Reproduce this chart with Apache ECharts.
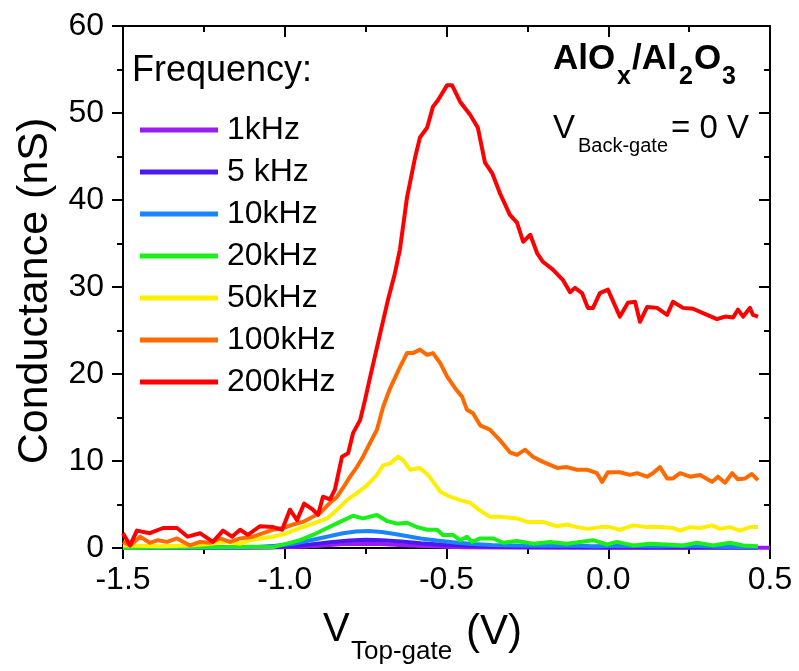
<!DOCTYPE html>
<html><head><meta charset="utf-8">
<script src="https://cdn.jsdelivr.net/npm/echarts@6/dist/echarts.min.js"></script>
<style>html,body{margin:0;padding:0;background:#fff}#c{width:799px;height:671px}</style>
</head><body><div id="c"></div>
<script>
const FONT = "'Liberation Sans', Arial, sans-serif";
const seriesNames = ['1kHz', '5 kHz', '10kHz', '20kHz', '50kHz', '100kHz', '200kHz'];
const seriesColors = ['#9B1CF2', '#4A18F0', '#1A84FF', '#18F018', '#FFEE00', '#FF6A00', '#FF0000'];

const f1k = [[-1.5,0],[-1.2,0.02],[-1.05,0.05],[-0.95,0.15],[-0.88,0.3],[-0.82,0.45],[-0.76,0.5],[-0.7,0.45],[-0.62,0.3],[-0.55,0.2],[-0.45,0.1],[-0.3,0.05],[0,0.03],[0.5,0.02]];
const f5k = [[-1.5,0],[-1.2,0.05],[-1.05,0.1],[-0.98,0.2],[-0.92,0.4],[-0.86,0.65],[-0.8,0.85],[-0.75,0.95],[-0.7,0.9],[-0.64,0.75],[-0.58,0.55],[-0.5,0.35],[-0.4,0.2],[-0.3,0.12],[-0.1,0.08],[0.2,0.05],[0.46,0.05]];
const f10k = [[-1.5,0],[-1.2,0.05],[-1.1,0.1],[-1.03,0.25],[-0.97,0.5],[-0.92,0.9],[-0.87,1.3],[-0.82,1.7],[-0.78,1.9],[-0.74,1.95],[-0.7,1.85],[-0.66,1.6],[-0.62,1.35],[-0.58,1.1],[-0.53,0.85],[-0.48,0.65],[-0.42,0.45],[-0.36,0.35],[-0.3,0.3],[-0.2,0.25],[-0.1,0.3],[-0.05,0.2],[0.05,0.25],[0.15,0.2],[0.25,0.25],[0.35,0.15],[0.46,0.1]];
const f20k = [[-1.5,0],[-1.4,0.05],[-1.3,0.1],[-1.2,0.1],[-1.1,0.15],[-1.036,0.1],[-0.993,0.5],[-0.953,0.9],[-0.913,1.5],[-0.869,2.3],[-0.829,3.0],[-0.789,3.7],[-0.758,3.4],[-0.715,3.8],[-0.684,3.1],[-0.653,2.8],[-0.622,2.9],[-0.591,2.4],[-0.56,2.1],[-0.529,2.1],[-0.511,1.5],[-0.48,1.5],[-0.458,0.9],[-0.437,1.3],[-0.421,0.7],[-0.396,1.1],[-0.356,1.1],[-0.325,0.6],[-0.282,0.8],[-0.233,0.5],[-0.18,0.7],[-0.128,0.5],[-0.047,0.9],[-0.004,0.4],[0.027,0.7],[0.077,0.3],[0.129,0.5],[0.182,0.4],[0.231,0.3],[0.274,0.6],[0.324,0.3],[0.376,0.6],[0.417,0.3],[0.463,0.2]];
const f50k = [[-1.5,0.3],[-1.386,0.2],[-1.293,0.3],[-1.231,0.5],[-1.179,0.7],[-1.138,0.5],[-1.107,0.9],[-1.077,1.1],[-1.036,1.3],[-0.993,1.7],[-0.953,2.3],[-0.913,2.8],[-0.869,3.4],[-0.838,4.4],[-0.808,5.5],[-0.777,6.3],[-0.746,7.2],[-0.715,8.4],[-0.696,9.5],[-0.675,9.7],[-0.65,10.5],[-0.634,10.1],[-0.613,9.0],[-0.582,9.2],[-0.557,8.4],[-0.529,7.0],[-0.52,6.5],[-0.489,5.9],[-0.458,5.5],[-0.427,5.2],[-0.396,4.3],[-0.366,3.6],[-0.335,3.6],[-0.282,3.4],[-0.251,3.0],[-0.202,3.0],[-0.158,2.5],[-0.128,2.7],[-0.097,2.4],[-0.063,2.2],[-0.026,2.4],[0.005,2.4],[0.036,2.1],[0.077,2.6],[0.12,2.4],[0.16,2.4],[0.2,2.3],[0.222,2.0],[0.253,2.4],[0.284,2.3],[0.321,2.6],[0.345,2.2],[0.376,2.4],[0.407,2.0],[0.438,2.4],[0.463,2.4]];
const f100k = [[-1.5,0.7],[-1.478,0.3],[-1.447,1.3],[-1.417,0.6],[-1.392,0.9],[-1.364,0.7],[-1.333,1.1],[-1.293,0.3],[-1.262,0.7],[-1.231,0.6],[-1.2,1.1],[-1.169,0.7],[-1.138,1.1],[-1.098,1.3],[-1.067,1.7],[-1.036,2.1],[-1.005,2.3],[-0.974,2.7],[-0.944,3.0],[-0.913,3.6],[-0.891,4.0],[-0.86,5.2],[-0.838,5.9],[-0.82,6.9],[-0.798,8.2],[-0.777,9.3],[-0.758,10.5],[-0.736,12.1],[-0.715,13.6],[-0.696,16.2],[-0.675,18.3],[-0.644,20.8],[-0.622,22.4],[-0.604,22.4],[-0.582,22.8],[-0.56,22.2],[-0.542,22.4],[-0.52,21.3],[-0.498,19.7],[-0.474,18.4],[-0.452,17.4],[-0.437,15.9],[-0.418,15.5],[-0.396,14.1],[-0.366,13.6],[-0.335,12.4],[-0.304,11.0],[-0.282,10.7],[-0.257,11.3],[-0.233,10.5],[-0.202,9.9],[-0.158,9.2],[-0.128,9.3],[-0.097,9.0],[-0.066,9.0],[-0.035,8.6],[-0.019,7.6],[-0.001,8.7],[0.036,8.7],[0.067,8.4],[0.089,8.6],[0.12,8.2],[0.138,8.6],[0.16,9.3],[0.182,8.0],[0.2,8.0],[0.222,8.6],[0.253,8.2],[0.284,8.4],[0.321,7.6],[0.339,8.2],[0.361,7.5],[0.383,8.6],[0.401,7.9],[0.423,8.0],[0.444,8.5],[0.463,7.8]];
const f200k = [[-1.5,1.7],[-1.478,0.3],[-1.457,2.0],[-1.417,1.7],[-1.376,2.3],[-1.333,2.3],[-1.3,1.3],[-1.262,1.7],[-1.222,0.7],[-1.191,2.0],[-1.163,1.3],[-1.138,2.1],[-1.114,1.5],[-1.077,2.5],[-1.036,2.4],[-1.008,2.1],[-0.984,4.4],[-0.962,3.2],[-0.94,5.1],[-0.913,4.4],[-0.897,3.8],[-0.882,5.9],[-0.86,5.6],[-0.845,6.7],[-0.823,10.5],[-0.804,10.9],[-0.789,13.2],[-0.767,14.7],[-0.752,17.0],[-0.737,19.5],[-0.706,24.5],[-0.681,28.5],[-0.66,31.5],[-0.644,34.3],[-0.622,40.3],[-0.597,44.9],[-0.582,47.2],[-0.56,48.3],[-0.542,50.7],[-0.526,51.5],[-0.498,53.2],[-0.483,53.2],[-0.458,51.3],[-0.427,49.8],[-0.403,48.3],[-0.381,44.3],[-0.359,43.1],[-0.335,40.8],[-0.304,38.3],[-0.282,37.4],[-0.263,35.2],[-0.241,36.0],[-0.22,33.9],[-0.202,32.9],[-0.171,32.0],[-0.14,30.8],[-0.118,29.4],[-0.103,29.9],[-0.081,29.3],[-0.063,27.6],[-0.047,27.6],[-0.026,29.3],[-0.001,29.7],[0.036,26.6],[0.061,28.2],[0.083,28.3],[0.098,26.0],[0.12,27.7],[0.151,27.6],[0.182,26.8],[0.2,28.3],[0.231,27.6],[0.262,27.5],[0.293,27.0],[0.336,26.3],[0.361,26.6],[0.386,26.5],[0.401,27.4],[0.417,26.6],[0.438,27.6],[0.447,26.8],[0.463,26.6]];

const seriesData = [f1k, f5k, f10k, f20k, f50k, f100k, f200k];

const chart = echarts.init(document.getElementById('c'), null, {renderer: 'canvas'});
const axisLine = {show: true, onZero: false, lineStyle: {color: '#000', width: 2}};
const tickStyle = {color: '#000', width: 2};

function txt(text, x, y, size, bold, extra) {
  return Object.assign({
    type: 'text', x: x, y: y, silent: true,
    style: {text: text, fill: '#000', font: (bold ? 'bold ' : '') + size + 'px ' + FONT, align: 'left', verticalAlign: 'middle'}
  }, extra || {});
}

chart.setOption({
  animation: false,
  backgroundColor: '#fff',
  grid: {left: 123, right: 29, top: 26, bottom: 123, containLabel: false},
  legend: {
    orient: 'vertical', left: 140, top: 114, padding: 0, itemWidth: 78, itemHeight: 5, itemGap: 10,
    icon: 'rect', selectedMode: false,
    data: seriesNames,
    textStyle: {fontFamily: FONT, fontSize: 32, color: '#000', lineHeight: 32, padding: [0, 0, 0, 4]}
  },
  xAxis: [{
    type: 'value', min: -1.5, max: 0.5, interval: 0.5, position: 'bottom',
    axisLine: axisLine,
    axisTick: {show: true, inside: false, length: 11, lineStyle: tickStyle},
    minorTick: {show: true, splitNumber: 2, length: 6, lineStyle: tickStyle},
    splitLine: {show: false},
    axisLabel: {margin: 16, fontFamily: FONT, fontSize: 32, color: '#000', formatter: v => v.toFixed(1)}
  }, {
    type: 'value', min: -1.5, max: 0.5, interval: 0.5, position: 'top',
    axisLine: axisLine,
    axisTick: {show: true, inside: true, length: 11, lineStyle: tickStyle},
    minorTick: {show: true, splitNumber: 2, length: 6, lineStyle: tickStyle},
    splitLine: {show: false}, axisLabel: {show: false}
  }],
  yAxis: [{
    type: 'value', min: 0, max: 60, interval: 10, position: 'left',
    axisLine: axisLine,
    axisTick: {show: true, inside: false, length: 11, lineStyle: tickStyle},
    minorTick: {show: true, splitNumber: 2, length: 6, lineStyle: tickStyle},
    splitLine: {show: false},
    axisLabel: {margin: 19, fontFamily: FONT, fontSize: 32, color: '#000'}
  }, {
    type: 'value', min: 0, max: 60, interval: 10, position: 'right',
    axisLine: axisLine,
    axisTick: {show: true, inside: true, length: 11, lineStyle: tickStyle},
    minorTick: {show: true, splitNumber: 2, length: 6, lineStyle: tickStyle},
    splitLine: {show: false}, axisLabel: {show: false}
  }],
  series: seriesNames.map((n, i) => ({
    name: n, type: 'line', data: seriesData[i], xAxisIndex: 0, yAxisIndex: 0,
    showSymbol: false, symbol: 'none', color: seriesColors[i],
    lineStyle: {width: 4, color: seriesColors[i], join: 'round'}, z: 2 + i, silent: true
  })),
  graphic: [
    txt('Frequency:', 132, 71, 36, false),
    txt('AlO', 553, 59, 35, true),
    txt('x', 617, 77, 25, true),
    txt('/Al', 632, 59, 35, true),
    txt('2', 679, 77, 25, true),
    txt('O', 694, 59, 35, true),
    txt('3', 722, 77, 25, true),
    txt('V', 553, 129, 33, false),
    txt('Back-gate', 578, 146, 20, false),
    txt('= 0 V', 671, 129, 33, false),
    txt('V', 323, 630, 40, false),
    txt('Top-gate', 351, 652, 26, false),
    txt('(V)', 466, 632, 42, false),
    {type: 'text', x: 35, y: 291, rotation: Math.PI / 2, silent: true,
     style: {text: 'Conductance (nS)', fill: '#000', font: '43px ' + FONT, align: 'center', verticalAlign: 'middle'}}
  ]
});
</script></body></html>
